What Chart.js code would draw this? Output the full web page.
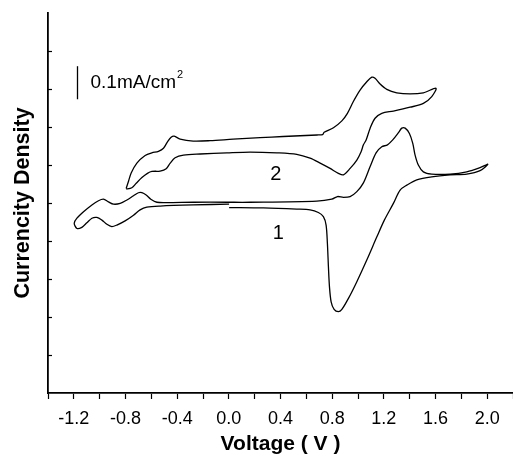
<!DOCTYPE html>
<html>
<head>
<meta charset="utf-8">
<script src="https://cdn.jsdelivr.net/npm/chart.js@4.4.1/dist/chart.umd.min.js"></script>
<style>
  html, body { margin: 0; padding: 0; background: #fff; overflow: hidden; }
</style>
</head>
<body>
<canvas id="cvChart" width="513" height="457"></canvas>
<script>
// curve 1: first scan, starts at 0 V and goes positive
const curve1Voltage = [0.002, 0.268, 0.526, 0.629, 0.693, 0.732, 0.753, 0.763, 0.771, 0.779,
    0.792, 0.815, 0.848, 0.875, 0.926, 0.991, 1.068, 1.146, 1.204, 1.274,
    1.326, 1.378, 1.455, 1.571, 1.713, 1.842, 1.945, 2.005, 1.945, 1.842,
    1.713, 1.571, 1.506, 1.467, 1.442, 1.424, 1.398, 1.365, 1.339, 1.313,
    1.269, 1.228, 1.184, 1.140, 1.094, 1.042, 0.991, 0.939, 0.887, 0.841,
    0.797, 0.681, 0.165, -0.015, -0.274, -0.480, -0.557, -0.604, -0.640, -0.673,
    -0.700, -0.738, -0.789, -0.841, -0.893, -0.932, -0.971, -1.009, -1.060, -1.125,
    -1.176, -1.197, -1.176, -1.138, -1.099, -1.060, -1.022, -0.983, -0.944, -0.906,
    -0.867, -0.803, -0.738, -0.687, -0.635, -0.532, -0.276, 0.002];
const curve1Current = [4.88, 4.87, 4.84, 4.82, 4.75, 4.64, 4.42, 3.94, 3.32, 2.80,
    2.40, 2.20, 2.14, 2.20, 2.49, 2.93, 3.50, 4.11, 4.55, 4.99,
    5.34, 5.47, 5.61, 5.69, 5.74, 5.76, 5.85, 6.02, 5.93, 5.82,
    5.76, 5.76, 5.82, 6.00, 6.26, 6.57, 6.83, 6.97, 6.97, 6.85,
    6.66, 6.53, 6.48, 6.32, 5.96, 5.53, 5.30, 5.17, 5.15, 5.17,
    5.10, 5.05, 5.02, 5.02, 5.02, 5.01, 5.02, 5.10, 5.21, 5.27,
    5.27, 5.19, 5.08, 4.99, 4.97, 5.03, 5.10, 5.06, 4.95, 4.77,
    4.60, 4.47, 4.33, 4.36, 4.48, 4.60, 4.62, 4.55, 4.44, 4.38,
    4.42, 4.53, 4.68, 4.82, 4.89, 4.92, 4.95, 4.97];

// curve 2: later scan, closed loop from -0.8 V
const curve2Voltage = [-0.795, -0.776, -0.756, -0.712, -0.648, -0.596, -0.545, -0.506, -0.475, -0.447,
    -0.423, -0.377, -0.276, -0.145, 0.033, 0.242, 0.420, 0.683, 0.726, 0.738,
    0.810, 0.875, 0.918, 0.964, 1.016, 1.068, 1.107, 1.132, 1.171, 1.223,
    1.300, 1.403, 1.506, 1.604, 1.571, 1.506, 1.403, 1.274, 1.184, 1.132,
    1.094, 1.063, 1.042, 1.024, 0.991, 0.939, 0.887, 0.848, 0.784, 0.707,
    0.629, 0.526, 0.372, 0.165, -0.015, -0.222, -0.351, -0.416, -0.454, -0.485,
    -0.532, -0.596, -0.630, -0.673, -0.717, -0.751, -0.789, -0.795];
const curve2Current = [5.38, 5.58, 5.79, 6.05, 6.25, 6.32, 6.36, 6.44, 6.61, 6.73,
    6.76, 6.68, 6.63, 6.64, 6.68, 6.72, 6.75, 6.79, 6.80, 6.86,
    6.98, 7.16, 7.36, 7.67, 7.97, 8.19, 8.31, 8.28, 8.13, 7.99,
    7.90, 7.87, 7.90, 8.02, 7.80, 7.62, 7.52, 7.42, 7.36, 7.23,
    6.97, 6.66, 6.53, 6.35, 6.13, 5.91, 5.74, 5.78, 5.91, 6.05,
    6.18, 6.28, 6.32, 6.34, 6.32, 6.29, 6.26, 6.19, 6.05, 5.90,
    5.84, 5.83, 5.78, 5.67, 5.52, 5.40, 5.37, 5.38];

const voltageTickLabels = [-1.2, -0.8, -0.4, 0.0, 0.4, 0.8, 1.2, 1.6, 2.0];
const currentTicks = [1, 2, 3, 4, 5, 6, 7, 8, 9];

// annotation anchors in data units
const curveLabels = [
    { text: '1', x: 0.384, y: 4.20 },
    { text: '2', x: 0.364, y: 5.76 }
];
const scaleBar = { x: -1.176, y0: 7.73, y1: 8.60, label: '0.1mA/cm', sup: '2' };

const FONT = "'Liberation Sans', Arial, Helvetica, sans-serif";

function toPoints(xs, ys) {
    return xs.map((v, i) => ({ x: v, y: ys[i] }));
}

const cvExtras = {
    id: 'cvExtras',
    afterDraw(chart) {
        const { ctx, scales: { x, y } } = chart;
        ctx.save();
        ctx.strokeStyle = '#000';
        ctx.fillStyle = '#000';

        // inward tick marks on the current axis
        ctx.lineWidth = 1.2;
        currentTicks.forEach(t => {
            const py = Math.round(y.getPixelForValue(t)) + 0.5;
            ctx.beginPath();
            ctx.moveTo(x.left, py);
            ctx.lineTo(x.left + 4, py);
            ctx.stroke();
        });

        // scale bar
        const bx = Math.round(x.getPixelForValue(scaleBar.x)) + 0.5;
        ctx.lineWidth = 1.3;
        ctx.beginPath();
        ctx.moveTo(bx, y.getPixelForValue(scaleBar.y0));
        ctx.lineTo(bx, y.getPixelForValue(scaleBar.y1));
        ctx.stroke();

        const midY = (y.getPixelForValue(scaleBar.y0) + y.getPixelForValue(scaleBar.y1)) / 2;
        ctx.font = '19px ' + FONT;
        ctx.textAlign = 'left';
        ctx.textBaseline = 'middle';
        ctx.fillText(scaleBar.label, bx + 13, midY);
        const w = ctx.measureText(scaleBar.label).width;
        ctx.font = '11px ' + FONT;
        ctx.fillText(scaleBar.sup, bx + 13 + w + 1, midY - 8);

        // curve numbers
        ctx.font = '20px ' + FONT;
        ctx.textAlign = 'center';
        curveLabels.forEach(l => {
            ctx.fillText(l.text, x.getPixelForValue(l.x), y.getPixelForValue(l.y));
        });
        ctx.restore();
    }
};

const ctx = document.getElementById('cvChart').getContext('2d');
new Chart(ctx, {
    type: 'scatter',
    data: {
        datasets: [
            {
                label: '1',
                data: toPoints(curve1Voltage, curve1Current),
                showLine: true,
                borderColor: '#000',
                borderWidth: 1.3,
                pointRadius: 0,
                tension: 0.3
            },
            {
                label: '2',
                data: toPoints(curve2Voltage, curve2Current),
                showLine: true,
                borderColor: '#000',
                borderWidth: 1.3,
                pointRadius: 0,
                tension: 0.3
            }
        ]
    },
    options: {
        responsive: false,
        animation: false,
        layout: { padding: { left: 0, top: 13, right: 0, bottom: 0 } },
        plugins: {
            legend: { display: false },
            tooltip: { enabled: false }
        },
        scales: {
            x: {
                type: 'linear',
                min: -1.4,
                max: 2.2,
                afterFit: s => {
                    s.height = 64;
                    s.paddingLeft = 0;
                    s.paddingRight = 0;
                },
                border: { display: true, color: '#000', width: 1.8 },
                grid: {
                    display: true,
                    drawOnChartArea: false,
                    drawTicks: true,
                    tickLength: 6,
                    tickColor: '#000',
                    tickWidth: 1.2
                },
                ticks: {
                    stepSize: 0.2,
                    autoSkip: false,
                    maxRotation: 0,
                    color: '#000',
                    padding: 9,
                    font: { family: FONT, size: 18 },
                    callback: v => {
                        const hit = voltageTickLabels.find(t => Math.abs(t - v) < 1e-6);
                        return hit === undefined ? '' : hit.toFixed(1);
                    }
                },
                title: {
                    display: true,
                    text: 'Voltage ( V )',
                    color: '#000',
                    padding: { top: -2, bottom: 0 },
                    font: { family: FONT, size: 21, weight: 'bold' }
                }
            },
            y: {
                type: 'linear',
                min: 0,
                max: 10,
                afterFit: s => {
                    s.width = 48;
                    s.paddingTop = 0;
                    s.paddingBottom = 0;
                },
                border: { display: true, color: '#000', width: 1.8 },
                grid: { display: false },
                ticks: { display: false, stepSize: 1 },
                title: {
                    display: true,
                    text: 'Currencity Density',
                    color: '#000',
                    padding: { top: 10, bottom: 0 },
                    font: { family: FONT, size: 21.5, weight: 'bold' }
                }
            }
        }
    },
    plugins: [cvExtras]
});
</script>
</body>
</html>
